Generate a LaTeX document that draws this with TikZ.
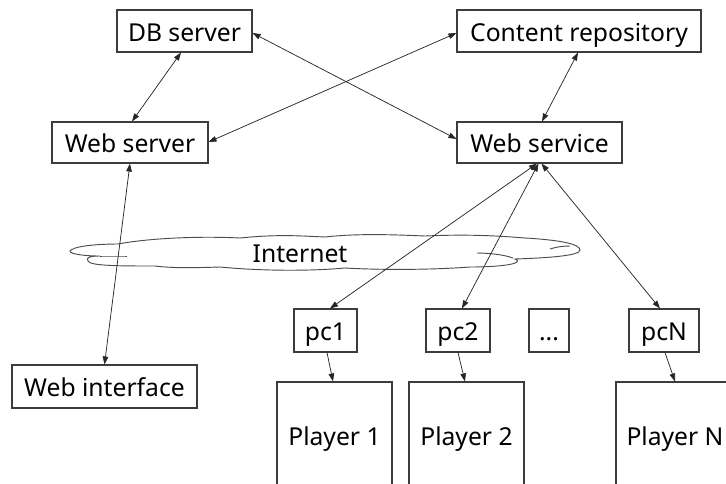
\documentclass[tikz,border=0pt]{standalone}
\usepackage{fontspec}
\setmainfont{Noto Sans}
\usetikzlibrary{arrows.meta,calc}

\definecolor{boxline}{RGB}{60,60,60}

\tikzset{
  label text/.style={font=\fontsize{18.5}{20}\selectfont, text height=15pt, text depth=0pt},
  box/.style 2 args={draw=boxline, line width=0.8pt, fill=white,
    minimum width=#1*0.75pt, minimum height=#2*0.75pt, inner sep=0pt,
    label text},
  link/.style={draw=black!85, line width=0.55pt,
    {Triangle[length=6pt,width=4.2pt]}-{Triangle[length=6pt,width=4.2pt]}},
  arr/.style={draw=black!85, line width=0.55pt, -{Triangle[length=6pt,width=4.2pt]}},
  cloudline/.style={draw=black!70, line width=0.7pt}
}

\begin{document}
\begin{tikzpicture}[x=0.75pt,y=-0.75pt]
\useasboundingbox (0,0) rectangle (726,483);
\clip (0,0) rectangle (726,483);

% Internet cloud
\path[cloudline, fill=white]
  (118,244) .. controls (150,238) and (200,236) .. (240,238)
  .. controls (280,234) and (300,236) .. (325,237)
  .. controls (360,233) and (400,235) .. (425,236)
  .. controls (470,234) and (500,236) .. (525,238)
  .. controls (560,240) and (580,244) .. (580,250)
  .. controls (580,256) and (545,258) .. (515,259)
  .. controls (525,263) and (505,267) .. (470,267)
  .. controls (430,270) and (380,270) .. (345,268)
  .. controls (300,272) and (250,270) .. (220,267)
  .. controls (190,268) and (170,268) .. (155,266)
  .. controls (120,266) and (90,266) .. (88,261)
  .. controls (85,257) and (92,256) .. (100,256)
  .. controls (80,256) and (66,253) .. (71,250)
  .. controls (78,245) and (105,244) .. (118,244) -- cycle;
\path[cloudline] (100,256) .. controls (110,256) and (120,256) .. (127,256);
\path[cloudline] (550,249) .. controls (556,247) and (563,246) .. (570,246);
\path[cloudline] (477,253) .. controls (490,253) and (505,255) .. (513,258);
\node[label text, inner sep=0pt] (net) at (300,252) {Internet};

% Servers
\node[box={135}{42}] (db)  at (184.5,31)   {DB server};
\node[box={244}{42}] (cr)  at (579,31)     {Content repository};
\node[box={156}{41}] (ws)  at (130,142.5)  {Web server};
\node[box={165}{41}] (wsv) at (539.5,142.5) {Web service};
\node[box={185}{43}] (wi)  at (104.5,386.5) {Web interface};

% Client machines
\node[box={63}{43}] (pc1)  at (325.5,330.5) {pc1};
\node[box={64}{43}] (pc2)  at (458,330.5)   {pc2};
\node[box={40}{43}] (dots) at (549,330.5)   {...};
\node[box={70}{43}] (pcN)  at (664,330.5)   {pcN};

% Players
\node[box={115}{106}] (p1) at (334.5,435) {Player 1};
\node[box={115}{106}] (p2) at (466.5,435) {Player 2};
\node[box={118}{106}] (pN) at (675,435)   {Player N};

% Connections
\draw[link] ($(db.south)+(-3.5,0)$) -- ($(ws.north)+(2,0)$);
\draw[link] ($(db.east)+(0,2)$) -- ($(wsv.west)+(0,-3.5)$);
\draw[link] ($(ws.east)+(0,-0.5)$) -- ($(cr.west)+(0,2)$);
\draw[link] ($(cr.south)+(-1,0)$) -- ($(wsv.north)+(2.5,0)$);
\draw[link] (ws.south) -- (wi.north);
\draw[link] ($(wsv.south)+(-2.5,0)$) -- ($(pc1.north)+(4.5,0)$);
\draw[link] ($(wsv.south)+(-1,0)$) -- ($(pc2.north)+(4,0)$);
\draw[link] ($(wsv.south)+(2,0)$) -- ($(pcN.north)+(-4,0)$);
\draw[arr] ($(pc1.south)+(1.5,0)$) -- ($(p1.north)+(-1.5,0)$);
\draw[arr] (pc2.south) -- ($(p2.north)+(-1.5,0)$);
\draw[arr] ($(pcN.south)+(1,0)$) -- (pN.north);
\end{tikzpicture}
\end{document}
